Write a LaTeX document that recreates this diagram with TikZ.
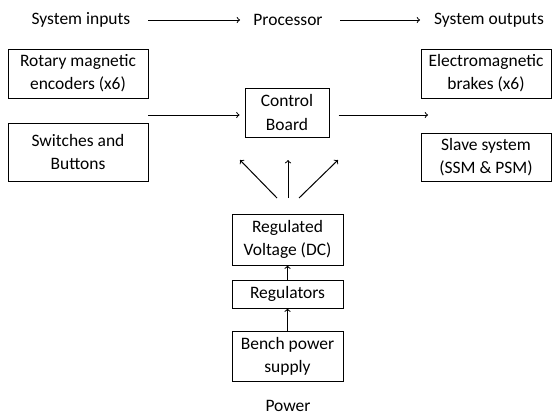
\documentclass[tikz,border=0pt]{standalone}
\usepackage{fontspec}
\setmainfont{Carlito}
\begin{document}
\begin{tikzpicture}[>=to, x={(0.75pt,0)}, y={(0,-0.75pt)},
        font=\fontsize{13.1pt}{17.3pt}\selectfont,
        block/.style={draw, line width=0.75pt, inner sep=0pt, align=center},
        title/.style={inner sep=2pt},
        link/.style={->, line width=0.75pt}]

        \useasboundingbox (0,0) rectangle (552,414);

        % -----------------------
        % 1. Headings
        % -----------------------
        \node[title] (inputs) at (81,20) {System inputs};
        \node[title] (processor) at (288,20) {Processor};
        \node[title] (outputs) at (489,20) {System outputs};
        \node[title] (power) at (288,406) {Power};

        % -----------------------
        % 2. Input blocks
        % -----------------------
        \node[block, minimum width=105pt, minimum height=36.75pt] (rotary) at (78,73.5)
            {Rotary magnetic\\encoders (x6)};
        \node[block, minimum width=105pt, minimum height=43.5pt] (switches) at (78,152)
            {Switches and\\Buttons};

        % -----------------------
        % 3. Processor block
        % -----------------------
        \node[block, minimum width=63pt, minimum height=36.75pt] (control) at (287,112.5)
            {Control\\Board};

        % -----------------------
        % 4. Output blocks
        % -----------------------
        \node[block, minimum width=97.5pt, minimum height=36.75pt] (brakes) at (486,73.5)
            {Electromagnetic\\brakes (x6)};
        \node[block, minimum width=97.5pt, minimum height=36pt] (slave) at (486,157)
            {Slave system\\(SSM \& PSM)};

        % -----------------------
        % 5. Power chain
        % -----------------------
        \node[block, minimum width=83.25pt, minimum height=38.25pt] (regvolt) at (287.5,239.5)
            {Regulated\\Voltage (DC)};
        \node[block, minimum width=83.25pt, minimum height=21pt] (regs) at (287.5,294)
            {Regulators};
        \node[block, minimum width=83.25pt, minimum height=37.5pt] (bench) at (287.5,356)
            {Bench power\\supply};

        % free ends of the arrows
        \coordinate (infeed) at (148,115);
        \coordinate (outfeed) at (428,115);
        \coordinate (f1) at (277,198);
        \coordinate (f2) at (288,198);
        \coordinate (f3) at (299,198);
        \coordinate (t1) at (240,160);
        \coordinate (t2) at (288,160);
        \coordinate (t3) at (338,160);

        % -----------------------
        % Relationships (Lines)
        % -----------------------
        \draw[link] (inputs -| infeed) -- (inputs -| t1);
        \draw[link, shorten <=1.5pt, shorten >=6pt] (processor -| t3) -- (processor -| outfeed);

        \draw[link, shorten >=3.75pt] (infeed) -- (infeed -| control.west);
        \draw[link, shorten <=6.75pt] (infeed -| control.east) -- (outfeed);

        \draw[link] (f1) -- (t1);
        \draw[link] (f2) -- (t2);
        \draw[link] (f3) -- (t3);

        \draw[link] (regs.north) -- (regvolt.south);
        \draw[link] (bench.north) -- (regs.south);

    \end{tikzpicture}
\end{document}
